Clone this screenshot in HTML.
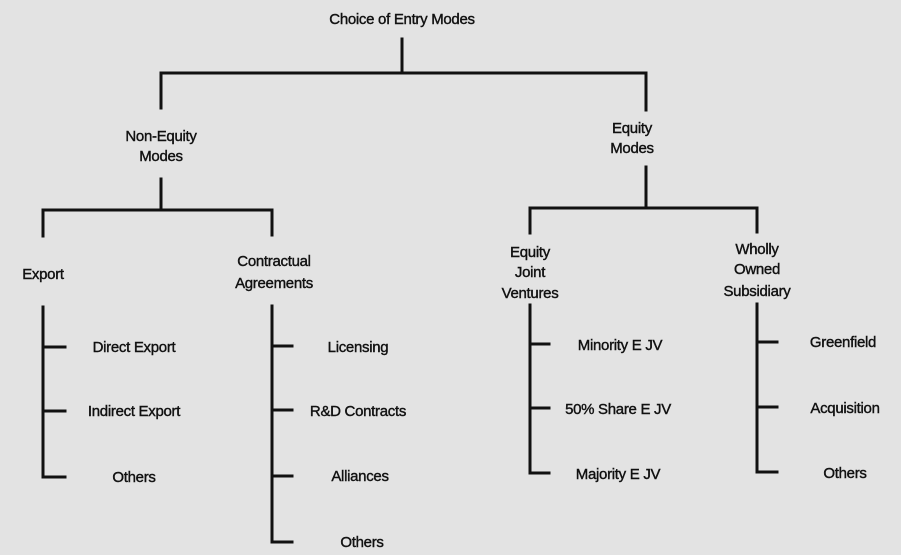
<!DOCTYPE html>
<html><head><meta charset="utf-8"><style>
html,body{margin:0;padding:0;background:#e3e3e3;}
svg{display:block}
text{font-family:"Liberation Sans",sans-serif;font-size:15px;fill:#111;stroke:#111;stroke-width:0.4px;text-anchor:middle;letter-spacing:-0.3px}
</style></head><body>
<svg width="901" height="555" viewBox="0 0 901 555" xmlns="http://www.w3.org/2000/svg">
<rect width="901" height="555" fill="#e3e3e3"/>
<g stroke="#111" stroke-width="3" fill="none" stroke-linecap="square">
<path d="M402 39V73M161 108V73H646V110"/>
<path d="M161 179V210M43 236V210H272V235"/>
<path d="M646 167V208M530 233V208H757V232"/>
<path d="M43 307V477H65M43 347H65M43 411H65"/>
<path d="M272 306V542H292M272 346H292M272 410H292M272 476H292"/>
<path d="M530 305V473H549M530 344H549M530 408H549"/>
<path d="M757 304V472H777M757 342H777M757 407H777"/>
</g>
<text x="402" y="24">Choice of Entry Modes</text>
<text x="161" y="141">Non-Equity</text>
<text x="161" y="161">Modes</text>
<text x="632" y="133">Equity</text>
<text x="632" y="153">Modes</text>
<text x="43" y="279">Export</text>
<text x="274" y="266">Contractual</text>
<text x="274" y="288">Agreements</text>
<text x="530" y="257">Equity</text>
<text x="530" y="277">Joint</text>
<text x="530" y="298">Ventures</text>
<text x="757" y="254">Wholly</text>
<text x="757" y="274">Owned</text>
<text x="757" y="296">Subsidiary</text>
<text x="134" y="352">Direct Export</text>
<text x="134" y="416">Indirect Export</text>
<text x="134" y="482">Others</text>
<text x="358" y="352">Licensing</text>
<text x="358" y="416">R&amp;D Contracts</text>
<text x="360" y="481">Alliances</text>
<text x="362" y="547">Others</text>
<text x="620" y="350">Minority E JV</text>
<text x="618" y="414">50% Share E JV</text>
<text x="618" y="479">Majority E JV</text>
<text x="843" y="347">Greenfield</text>
<text x="845" y="413">Acquisition</text>
<text x="845" y="478">Others</text>
</svg>
</body></html>
